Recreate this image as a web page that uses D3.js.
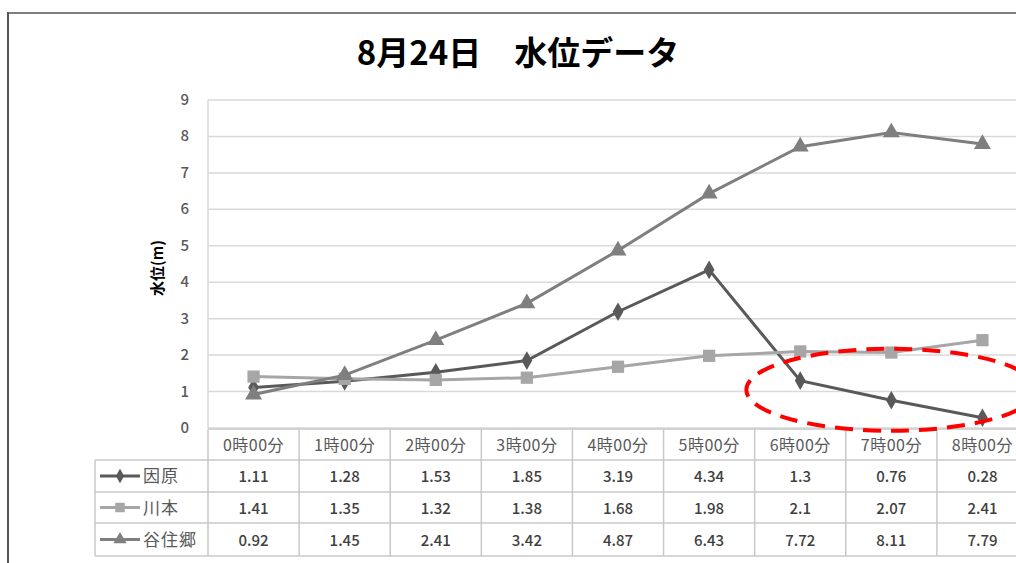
<!DOCTYPE html>
<html>
<head>
<meta charset="utf-8">
<script src="https://cdn.jsdelivr.net/npm/d3@7"></script>
<style>
body { margin: 0; background: #fff; }
svg { display: block; font-family: "Noto Sans CJK JP", "Noto Sans", sans-serif; }
</style>
</head>
<body>
<svg id="chart" width="1016" height="563"></svg>
<script>
// データ
var times = ["0時00分", "1時00分", "2時00分", "3時00分", "4時00分", "5時00分", "6時00分", "7時00分", "8時00分"];
var names = ["因原", "川本", "谷住郷"];
var inbara = [1.11, 1.28, 1.53, 1.85, 3.19, 4.34, 1.3, 0.76, 0.28];
var kawamoto = [1.41, 1.35, 1.32, 1.38, 1.68, 1.98, 2.1, 2.07, 2.41];
var tanijugo = [0.92, 1.45, 2.41, 3.42, 4.87, 6.43, 7.72, 8.11, 7.79];
var yTicks = [0, 1, 2, 3, 4, 5, 6, 7, 8, 9];

var series = [
  {name: names[0], values: inbara, color: "#595959", symbol: d3.symbolDiamond, size: 100},
  {name: names[1], values: kawamoto, color: "#a6a6a6", symbol: d3.symbolSquare, size: 150},
  {name: names[2], values: tanijugo, color: "#7f7f7f", symbol: d3.symbolTriangle, size: 125}
];

var svg = d3.select("#chart");

// 枠
svg.append("line").attr("x1", 8).attr("x2", 1016).attr("y1", 13).attr("y2", 13)
  .attr("stroke", "#7f7f7f").attr("stroke-width", 2);
svg.append("line").attr("x1", 8).attr("x2", 8).attr("y1", 12).attr("y2", 563)
  .attr("stroke", "#555").attr("stroke-width", 2);

// タイトル
svg.append("text").attr("x", 518).attr("y", 65)
  .attr("text-anchor", "middle").attr("font-size", 33).attr("font-weight", "bold")
  .attr("fill", "#000").text("8月24日　水位データ");

var x = d3.scaleBand().domain(times).range([208, 1028]);
var y = d3.scaleLinear().domain([0, 9]).range([428, 100]);

// グリッド
svg.append("g").selectAll("line").data(yTicks).enter().append("line")
  .attr("x1", 208).attr("x2", 1016)
  .attr("y1", d => y(d)).attr("y2", d => y(d))
  .attr("stroke", "#d9d9d9").attr("stroke-width", 1.5);

svg.append("line").attr("x1", 208).attr("x2", 208).attr("y1", 100).attr("y2", 428)
  .attr("stroke", "#d9d9d9").attr("stroke-width", 1.5);

// 目盛
svg.append("g").selectAll("text").data(yTicks).enter().append("text")
  .attr("x", 189).attr("y", d => y(d) + 5)
  .attr("text-anchor", "end").attr("font-size", 15).attr("font-weight", 500).attr("fill", "#595959")
  .text(d => d);

svg.append("text").attr("transform", "translate(163,268) rotate(-90)")
  .attr("text-anchor", "middle").attr("font-size", 15).attr("font-weight", "bold")
  .attr("fill", "#000").text("水位(m)");

// 線
var line = d3.line().x((d, i) => x(times[i]) + x.bandwidth() / 2).y(d => y(d));

var g = svg.append("g").selectAll("g").data(series).enter().append("g");
g.append("path").attr("d", d => line(d.values))
  .attr("fill", "none").attr("stroke", d => d.color).attr("stroke-width", 3);
g.each(function(s) {
  d3.select(this).selectAll(".pt").data(s.values).enter().append("path")
    .attr("class", "pt")
    .attr("transform", (v, i) => "translate(" + (x(times[i]) + x.bandwidth() / 2) + "," + y(v) + ")")
    .attr("d", d3.symbol().type(s.symbol).size(s.size))
    .attr("fill", s.color);
});

// データテーブル
var rowY = [429, 460, 492, 523, 556];
var tableLeft = 95;
var border = "#c8c8c8";
var tbl = svg.append("g");

// 横線
tbl.append("line").attr("x1", 208).attr("x2", 1016).attr("y1", rowY[0]).attr("y2", rowY[0])
  .attr("stroke", border).attr("stroke-width", 1.5);
tbl.selectAll(".h").data(rowY.slice(1)).enter().append("line")
  .attr("x1", tableLeft).attr("x2", 1016)
  .attr("y1", d => d).attr("y2", d => d)
  .attr("stroke", border).attr("stroke-width", 1.5);

// 縦線
tbl.selectAll(".v").data(times).enter().append("line")
  .attr("x1", d => x(d)).attr("x2", d => x(d))
  .attr("y1", rowY[0]).attr("y2", rowY[4])
  .attr("stroke", border).attr("stroke-width", 1.5);
tbl.append("line").attr("x1", tableLeft).attr("x2", tableLeft)
  .attr("y1", rowY[1]).attr("y2", rowY[4])
  .attr("stroke", border).attr("stroke-width", 1.5);

// 見出し
tbl.selectAll(".hd").data(times).enter().append("text")
  .attr("x", d => x(d) + x.bandwidth() / 2).attr("y", 451)
  .attr("text-anchor", "middle").attr("font-size", 16).attr("letter-spacing", 0.5).attr("fill", "#595959")
  .text(d => d);

// 凡例と値
series.forEach(function(s, r) {
  var cy = (rowY[r + 1] + rowY[r + 2]) / 2;
  tbl.append("line").attr("x1", 100).attr("x2", 140).attr("y1", cy).attr("y2", cy)
    .attr("stroke", s.color).attr("stroke-width", 3);
  tbl.append("path").attr("transform", "translate(120," + cy + ")")
    .attr("d", d3.symbol().type(s.symbol).size(s.size * 0.6)).attr("fill", s.color);
  tbl.append("text").attr("x", 143).attr("y", cy + 6)
    .attr("font-size", 17).attr("fill", "#595959").attr("letter-spacing", 1).text(s.name);
  tbl.selectAll(".val" + r).data(s.values).enter().append("text")
    .attr("x", (v, i) => x(times[i]) + x.bandwidth() / 2).attr("y", cy + 6)
    .attr("text-anchor", "middle").attr("font-size", 15).attr("font-weight", 500).attr("fill", "#404040")
    .text(v => v);
});

// 赤い破線の楕円
svg.append("ellipse").attr("cx", x(times[7]) + x.bandwidth() / 2).attr("cy", y(1.05))
  .attr("rx", 145).attr("ry", 41)
  .attr("fill", "none").attr("stroke", "#ff0000").attr("stroke-width", 4)
  .attr("stroke-dasharray", "18,10");
</script>
</body>
</html>
